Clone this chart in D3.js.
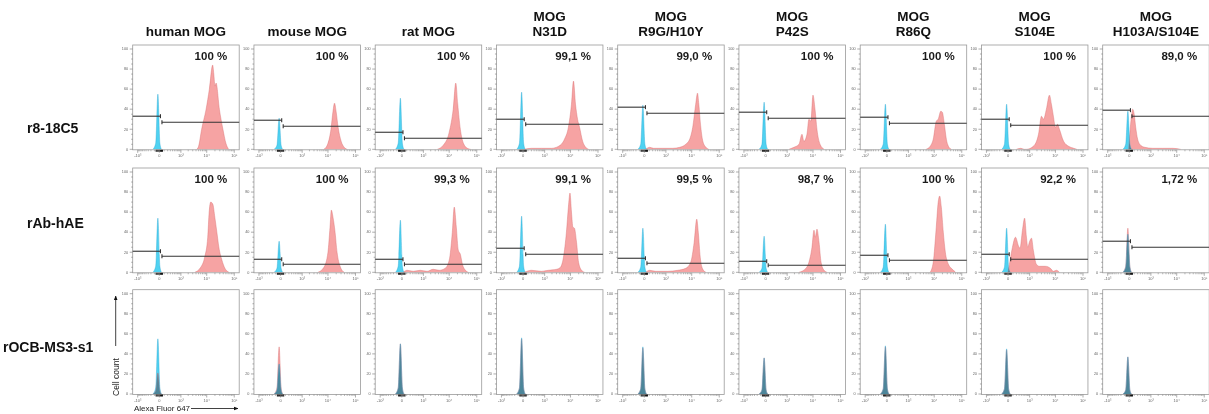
<!DOCTYPE html>
<html><head><meta charset="utf-8">
<script src="https://cdn.jsdelivr.net/npm/d3@7"></script>
<style>
html,body{margin:0;padding:0;background:#fff;}
svg{display:block;font-family:"Liberation Sans",Arial,sans-serif;}
</style></head><body>
<svg id="chart" width="1209" height="414"></svg>
<script>
// ---------------- data ----------------
const columnTitles = [["human MOG"],["mouse MOG"],["rat MOG"],["MOG","N31D"],["MOG","R9G/H10Y"],["MOG","P42S"],["MOG","R86Q"],["MOG","S104E"],["MOG","H103A/S104E"]];
const antibodies = ["r8-18C5","rAb-hAE","rOCB-MS3-s1"];
const percentLabels = [
  ["100 %","100 %","100 %","99,1 %","99,0 %","100 %","100 %","100 %","89,0 %"],
  ["100 %","100 %","99,3 %","99,1 %","99,5 %","98,7 %","100 %","92,2 %","1,72 %"],
  [null,null,null,null,null,null,null,null,null]
];
const yTickValues = [0,20,40,60,80,100];
const xTickValues = [-1000,0,1000,10000,100000];
const xTickLabels = ["-10³","0","10³","10⁴","10⁵"];
const xMinorTicks = [-900,-800,-700,-600,-500,-400,-300,-200,-100,100,200,300,400,500,600,700,800,900,
  2000,3000,4000,5000,6000,7000,8000,9000,20000,30000,40000,50000,60000,70000,80000,90000];
const xZeroTicks = [-60,-40,-20,0,20,40,60];

// gate levels (cell count) for negative / positive gates, rows 1-2
const gateNegLevel = [[33,29,17,30,42,37,32,30,39],[21,13,13,24,14,11,17,18,31]];
const gatePosLevel = [[27,23,11,25,36,31,26,24,33],[16,8,8,18,9,7,12,13,25]];
const gateBoundary = [[20,20,20,20,20,20,20,20,20],[20,20,20,20,20,20,20,20,20]];

// isotype / unstained (cyan) histograms : [fluorescence, count]
const isotypeCurves = [
  [
    [[-140,0],[-70,6],[-25,55],[10,6],[40,0]],
    [[-140,0],[-70,4],[-25,31],[10,4],[40,0]],
    [[-140,0],[-70,6],[-25,51],[10,6],[40,0]],
    [[-140,0],[-70,6],[-25,57],[10,6],[40,0]],
    [[-140,0],[-70,5],[-25,44],[10,5],[40,0]],
    [[-140,0],[-70,5],[-25,47],[10,5],[40,0]],
    [[-140,0],[-70,5],[-25,45],[10,5],[40,0]],
    [[-140,0],[-70,5],[-25,45],[10,5],[40,0]],
    [[-140,0],[-70,5],[-25,38],[10,5],[40,0]]
  ],
  [
    [[-140,0],[-70,6],[-25,54],[10,6],[40,0]],
    [[-140,0],[-70,4],[-25,31],[10,4],[40,0]],
    [[-140,0],[-70,6],[-25,52],[10,6],[40,0]],
    [[-140,0],[-70,6],[-25,56],[10,6],[40,0]],
    [[-140,0],[-70,5],[-25,44],[10,5],[40,0]],
    [[-140,0],[-70,4],[-25,36],[10,4],[40,0]],
    [[-140,0],[-70,5],[-25,48],[10,5],[40,0]],
    [[-140,0],[-70,5],[-25,44],[10,5],[40,0]],
    [[-140,0],[-70,5],[-25,38],[10,5],[40,0]]
  ],
  [
    [[-140,0],[-70,6],[-25,55],[10,6],[40,0]],
    [[-140,0],[-70,4],[-25,30],[10,4],[40,0]],
    [[-140,0],[-70,6],[-25,50],[10,6],[40,0]],
    [[-140,0],[-70,6],[-25,56],[10,6],[40,0]],
    [[-140,0],[-70,5],[-25,47],[10,5],[40,0]],
    [[-140,0],[-70,4],[-25,36],[10,4],[40,0]],
    [[-140,0],[-70,5],[-25,48],[10,5],[40,0]],
    [[-140,0],[-70,5],[-25,45],[10,5],[40,0]],
    [[-140,0],[-70,4],[-25,37],[10,4],[40,0]]
  ]
];

// antibody-stained (red) histograms : [fluorescence, count]
const stainedCurves = [
  [
    [[4250,0],[5000,3],[6500,20],[9500,40],[12500,60],[16500,84],[18200,75],[20000,63],[22000,66],[29000,40],[39000,20],[50000,6],[63000,0]],
    [[7100,0],[10000,6],[12900,20],[15300,38],[17400,46],[19800,38],[23500,22],[30300,8],[39000,2],[50000,0]],
    [[3600,0],[6000,4],[10000,17],[14000,40],[17400,66],[20500,45],[25500,20],[33000,6],[46000,1],[60000,0]],
    [[24,0],[200,1],[720,1],[1900,1],[3600,3],[6000,10],[8400,22],[10900,45],[12900,68],[15300,45],[18200,30],[21500,22],[27800,8],[35900,2],[46000,0]],
    [[24,0],[110,2],[230,1],[720,1],[1900,1],[3600,2],[6000,5],[8400,10],[10900,22],[14000,45],[16300,56],[18200,45],[21500,22],[25500,8],[33000,2],[42000,0]],
    [[1200,0],[1900,2],[3000,5],[3900,15],[4600,8],[6000,15],[7100,30],[8400,28],[10000,54],[11900,40],[14000,20],[18200,5],[25500,0]],
    [[5000,0],[7100,3],[9200,10],[11900,28],[14000,30],[17400,38],[19800,37],[23500,25],[27800,10],[33000,3],[42000,0]],
    [[200,0],[380,1],[560,0],[720,0],[1430,3],[2300,15],[3000,33],[3600,30],[4600,40],[6000,54],[7100,45],[8400,33],[10000,22],[11900,25],[14000,20],[19800,8],[30300,3],[46000,1],[60000,0]],
    [[-10,0],[15,20],[44,35],[65,40],[100,35],[140,22],[200,10],[315,4],[520,2],[1200,1],[3000,1],[7100,1],[14000,0]]
  ],
  [
    [[3600,0],[6000,5],[8400,15],[10900,35],[12300,60],[14000,70],[16700,68],[19800,55],[23500,40],[27800,25],[36000,12],[46000,4],[65000,0]],
    [[4250,0],[7100,5],[10000,20],[11900,45],[13300,62],[15300,55],[18200,40],[21500,20],[27800,6],[39000,0]],
    [[24,0],[110,2],[315,1],[720,2],[1430,1],[2500,3],[4250,2],[7100,4],[10000,12],[13000,40],[15300,65],[18200,45],[21500,22],[25500,18],[30300,8],[39000,2],[50000,0]],
    [[24,0],[200,2],[720,1],[1430,2],[3000,3],[4250,5],[5500,15],[7100,40],[8400,65],[9600,79],[10900,60],[12300,45],[14000,44],[16700,30],[19800,10],[25500,2],[33000,0]],
    [[24,0],[110,2],[315,1],[1200,1],[3000,2],[6000,4],[9200,10],[12300,30],[15300,53],[17400,40],[20500,15],[25500,3],[33000,0]],
    [[3000,0],[5500,4],[7100,10],[9200,25],[10900,42],[12300,35],[14000,43],[16700,30],[19800,10],[25500,2],[33000,0]],
    [[7100,0],[9200,10],[11900,45],[14000,70],[15900,76],[18200,65],[21500,40],[25500,20],[33000,8],[46000,3],[60000,0]],
    [[-2,0],[24,8],[88,25],[170,35],[280,26],[340,24],[460,42],[590,54],[720,35],[830,25],[970,30],[1200,34],[1430,22],[1900,8],[2500,6],[4250,6],[6500,4],[8400,1],[10900,2],[14000,0]],
    [[-140,0],[-70,6],[-25,44],[10,6],[40,0]]
  ],
  [
    [[-140,0],[-70,3],[-25,21],[10,3],[40,0]],
    [[-140,0],[-70,6],[-25,47],[10,6],[40,0]],
    [[-140,0],[-70,6],[-25,50],[10,6],[40,0]],
    [[-140,0],[-70,6],[-25,55],[10,6],[40,0]],
    [[-140,0],[-70,5],[-25,46],[10,5],[40,0]],
    [[-140,0],[-70,4],[-25,36],[10,4],[40,0]],
    [[-140,0],[-70,5],[-25,47],[10,5],[40,0]],
    [[-140,0],[-70,5],[-25,44],[10,5],[40,0]],
    [[-140,0],[-70,4],[-25,37],[10,4],[40,0]]
  ]
];

// ---------------- layout ----------------
const svg = d3.select("#chart");
const panelW = 106.5, panelH = 104.8;
const colX = d3.scaleLinear().domain([0, 8]).range([132.7, 1102.7]);
const rowY = [45, 168, 289.7];
const x = d3.scaleSymlog().constant(200).domain([-1617, 150900]).range([0, panelW]);
const y = d3.scaleLinear().domain([0, 100]).range([panelH - 0.5, panelH - 0.5 - 100.3]);

const area = d3.area().x(d => x(d[0])).y0(y(0)).y1(d => y(d[1])).curve(d3.curveMonotoneX);
const outline = d3.line().x(d => x(d[0])).y(d => y(d[1])).curve(d3.curveMonotoneX);

const defs = svg.append("defs");
defs.append("clipPath").attr("id", "pclip").append("rect")
  .attr("x", 0).attr("y", 0).attr("width", panelW).attr("height", panelH);
defs.append("marker").attr("id", "arr").attr("viewBox", "0 0 10 10").attr("refX", 9).attr("refY", 5)
  .attr("markerWidth", 6).attr("markerHeight", 6).attr("orient", "auto")
  .append("path").attr("d", "M0,1L10,5L0,9Z").attr("fill", "#111");

// column titles
columnTitles.forEach((lines, c) => {
  const cx = colX(c) + panelW / 2;
  const t = svg.append("text").attr("x", cx).attr("text-anchor", "middle")
    .attr("font-weight", "bold").attr("font-size", 13.5).attr("fill", "#111");
  lines.forEach((s, i) => {
    t.append("tspan").attr("x", cx).attr("y", lines.length === 1 ? 36 : 21 + i * 15).text(s);
  });
});

// row labels
const rowLabelX = [27, 27, 3];
const rowLabelY = [133, 228, 352];
antibodies.forEach((s, r) => {
  svg.append("text").attr("x", rowLabelX[r]).attr("y", rowLabelY[r])
    .attr("font-weight", "bold").attr("font-size", 14).attr("fill", "#111").text(s);
});

// panels
for (let r = 0; r < 3; r++) {
  for (let c = 0; c < 9; c++) {
    const g = svg.append("g").attr("transform", `translate(${colX(c)},${rowY[r]})`);
    const plot = g.append("g").attr("clip-path", "url(#pclip)").style("isolation", "isolate");
    plot.append("path").datum(stainedCurves[r][c]).attr("d", area)
      .attr("fill", "#f6a3a3").style("mix-blend-mode", "multiply");
    plot.append("path").datum(isotypeCurves[r][c]).attr("d", area)
      .attr("fill", "#4fd2f1").style("mix-blend-mode", "multiply");
    plot.append("path").datum(stainedCurves[r][c]).attr("d", outline)
      .attr("fill", "none").attr("stroke", "#d8686b").attr("stroke-width", 0.5).attr("stroke-opacity", 0.8);
    plot.append("path").datum(isotypeCurves[r][c]).attr("d", outline)
      .attr("fill", "none").attr("stroke", "#2aa6d2").attr("stroke-width", 0.5).attr("stroke-opacity", 0.8);

    // frame
    g.append("rect").attr("width", panelW).attr("height", panelH)
      .attr("fill", "none").attr("stroke", "#9a9a9a").attr("stroke-width", 0.8);

    // y ticks
    for (let v = 0; v <= 100; v += 5) {
      const major = v % 20 === 0;
      g.append("line").attr("x1", 0).attr("x2", major ? -3 : -1.5)
        .attr("y1", y(v)).attr("y2", y(v)).attr("stroke", "#777").attr("stroke-width", 0.6);
    }
    yTickValues.forEach(v => {
      g.append("text").attr("x", -4.5).attr("y", y(v) + 1.3).attr("text-anchor", "end")
        .attr("font-size", 3.8).attr("fill", "#666").text(v);
    });
    // x ticks
    xMinorTicks.forEach(v => {
      g.append("line").attr("x1", x(v)).attr("x2", x(v)).attr("y1", panelH).attr("y2", panelH + 1.5)
        .attr("stroke", "#777").attr("stroke-width", 0.5);
    });
    xZeroTicks.forEach(v => {
      g.append("line").attr("x1", x(v)).attr("x2", x(v)).attr("y1", panelH).attr("y2", panelH + 2)
        .attr("stroke", "#111").attr("stroke-width", 1);
    });
    xTickValues.forEach((v, i) => {
      g.append("line").attr("x1", x(v)).attr("x2", x(v)).attr("y1", panelH).attr("y2", panelH + 3)
        .attr("stroke", "#777").attr("stroke-width", 0.6);
      g.append("text").attr("x", x(v)).attr("y", panelH + 7.5).attr("text-anchor", "middle")
        .attr("font-size", 4).attr("fill", "#666").text(xTickLabels[i]);
    });

    // gates
    if (r < 2) {
      const bx = x(gateBoundary[r][c]);
      const yn = y(gateNegLevel[r][c]), yp = y(gatePosLevel[r][c]);
      const ln = (x1, y1, x2, y2) => g.append("line").attr("x1", x1).attr("y1", y1).attr("x2", x2).attr("y2", y2)
        .attr("stroke", "#333").attr("stroke-width", 1.1);
      ln(0, yn, bx, yn); ln(bx, yn - 2, bx, yn + 2);
      ln(bx + 1.5, yp, panelW, yp); ln(bx + 1.5, yp - 2, bx + 1.5, yp + 2);
    }
    // percentage
    if (percentLabels[r][c]) {
      g.append("text").attr("x", panelW - 12).attr("y", 14.5).attr("text-anchor", "end")
        .attr("font-weight", "bold").attr("font-size", 11.5).attr("fill", "#1a1a1a").text(percentLabels[r][c]);
    }
  }
}

// axis titles
svg.append("text").attr("transform", "translate(119,396) rotate(-90)")
  .attr("font-size", 8.5).attr("fill", "#222").text("Cell count");
svg.append("line").attr("x1", 115.7).attr("y1", 346).attr("x2", 115.7).attr("y2", 296)
  .attr("stroke", "#111").attr("stroke-width", 0.8).attr("marker-end", "url(#arr)");
svg.append("text").attr("x", 134).attr("y", 411)
  .attr("font-size", 8).attr("fill", "#222").text("Alexa Fluor 647");
svg.append("line").attr("x1", 191).attr("y1", 408.5).attr("x2", 238).attr("y2", 408.5)
  .attr("stroke", "#111").attr("stroke-width", 0.8).attr("marker-end", "url(#arr)");
</script>
</body></html>
